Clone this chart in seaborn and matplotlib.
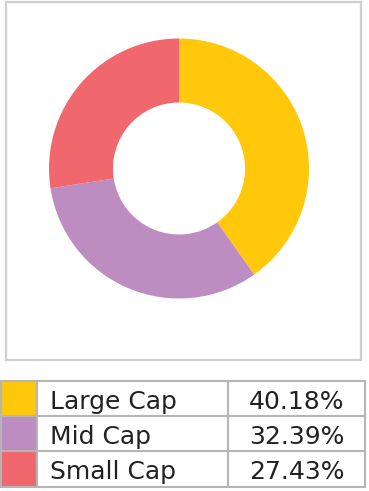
import matplotlib
matplotlib.use("Agg")
import matplotlib.pyplot as plt
from matplotlib.patches import Rectangle
import seaborn as sns

categories = ["Large Cap", "Mid Cap", "Small Cap"]
values = [40.18, 32.39, 27.43]
value_labels = ["40.18%", "32.39%", "27.43%"]
colors = ["#FFC80B", "#BD8CC1", "#F0686E"]

sns.set_theme(style="white")
plt.rcParams['font.family'] = ['DejaVu Sans']

W, H = 369, 491
fig = plt.figure(figsize=(W / 100, H / 100), dpi=100)
fig.patch.set_facecolor("white")

# donut panel (pixel coordinates, y up)
bx0, by0, bx1, by1 = 6, 2, 361, 360
ax = fig.add_axes([bx0 / W, 1 - by1 / H, (bx1 - bx0) / W, (by1 - by0) / H])
cx, cy = 179, H - 168.5
ax.pie(values, colors=colors, startangle=90, counterclock=False,
       center=(cx, cy), radius=130,
       wedgeprops=dict(width=64, linewidth=0))
ax.set_xlim(bx0, bx1)
ax.set_ylim(H - by1, H - by0)
ax.set_aspect("auto")
ax.set_frame_on(True)
for s in ax.spines.values():
    s.set_visible(True)
    s.set_color("#cfcfcf")
    s.set_linewidth(1.6)
ax.set_xticks([])
ax.set_yticks([])

# table
tax = fig.add_axes([0, 0, 1, 1])
tax.set_xlim(0, W)
tax.set_ylim(H, 0)
tax.axis("off")
rows_y = [381, 416, 451, 487]
cols_x = [1, 37, 228, 365]
grid_c = "#b5b5b5"
for i, (cat, lab, col) in enumerate(zip(categories, value_labels, colors)):
    y0, y1 = rows_y[i], rows_y[i + 1]
    tax.add_patch(Rectangle((cols_x[0], y0), cols_x[1] - cols_x[0], y1 - y0,
                            facecolor=col, edgecolor="none"))
    tax.text(50, y0 + 28, cat, ha="left", va="baseline",
             fontsize=18, color="#222222")
    tax.text((cols_x[2] + cols_x[3]) / 2, y0 + 28, lab,
             ha="center", va="baseline", fontsize=18, color="#222222")
for y in rows_y:
    tax.plot([cols_x[0], cols_x[-1]], [y, y], color=grid_c, lw=1.5,
             solid_capstyle="projecting")
for x in cols_x:
    tax.plot([x, x], [rows_y[0], rows_y[-1]], color=grid_c, lw=1.5,
             solid_capstyle="projecting")

fig.savefig("out.png", dpi=100)
